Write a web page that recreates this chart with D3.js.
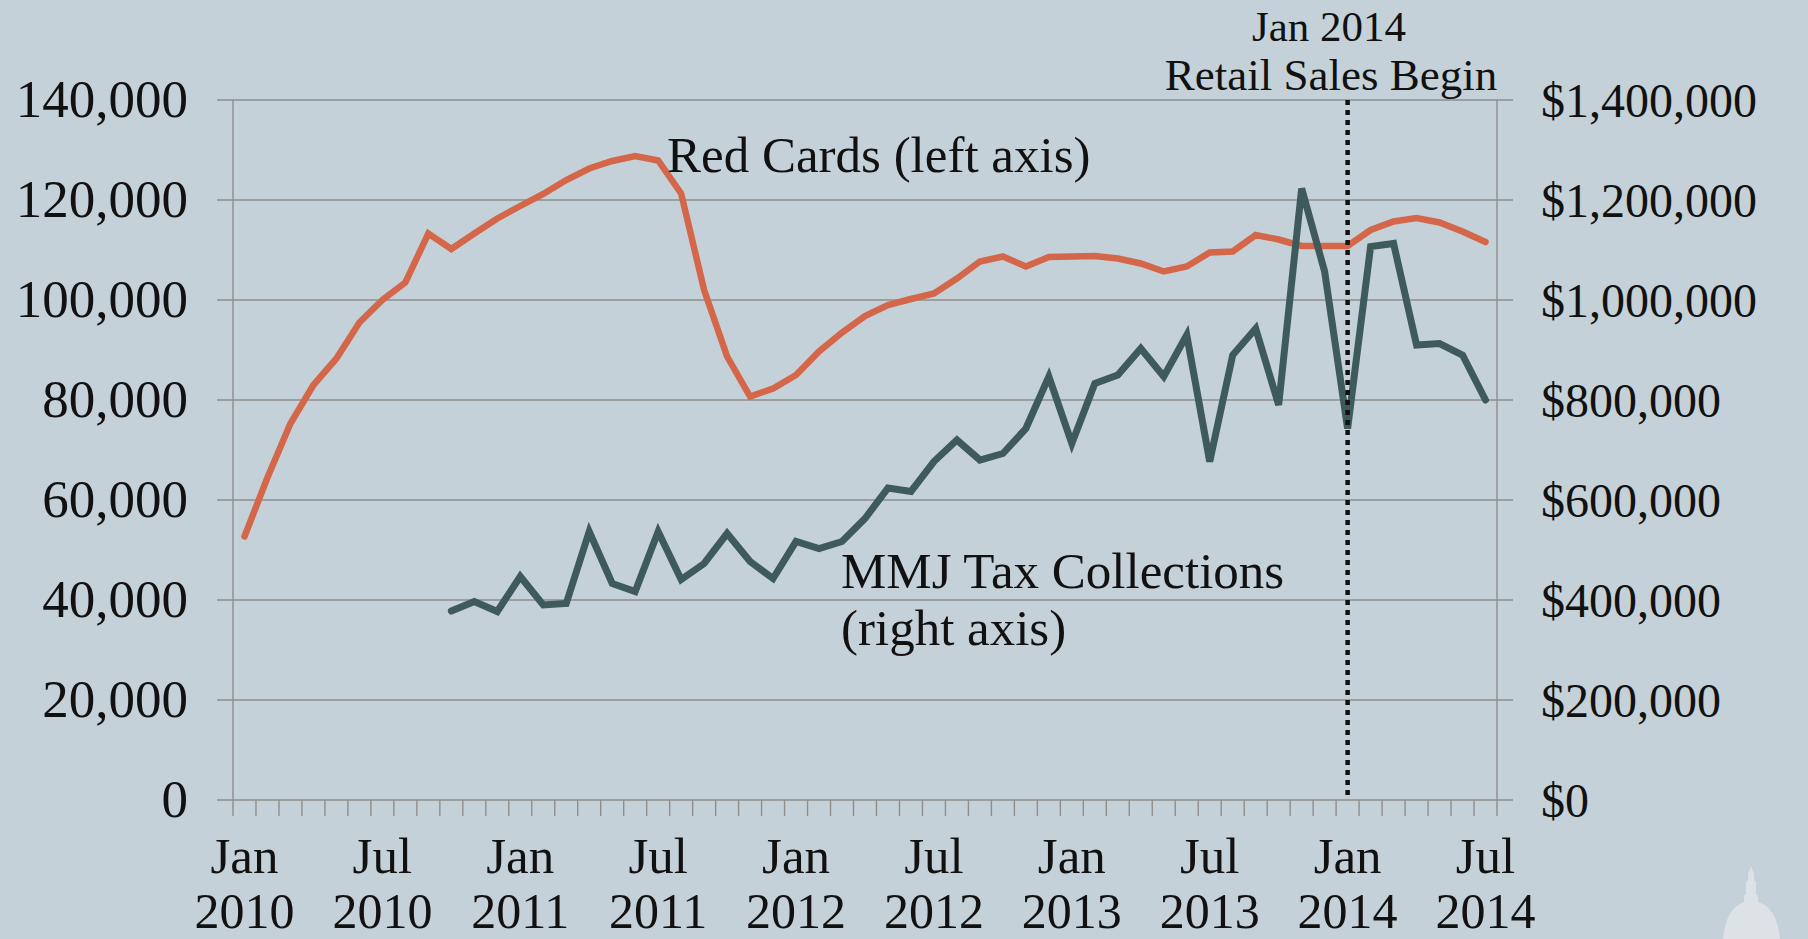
<!DOCTYPE html>
<html>
<head>
<meta charset="utf-8">
<script src="https://cdn.jsdelivr.net/npm/d3@7"></script>
<style>
  html, body { margin: 0; padding: 0; background: #c5d1d8; }
  svg { display: block; }
  text { font-family: Georgia, "Liberation Serif", "DejaVu Serif", serif; fill: #111; }
</style>
</head>
<body>
<svg id="chart" width="1808" height="939"></svg>
<script>
// ---------- DATA ----------
const months = [
  "Jan 2010","Feb 2010","Mar 2010","Apr 2010","May 2010","Jun 2010","Jul 2010","Aug 2010","Sep 2010","Oct 2010","Nov 2010","Dec 2010",
  "Jan 2011","Feb 2011","Mar 2011","Apr 2011","May 2011","Jun 2011","Jul 2011","Aug 2011","Sep 2011","Oct 2011","Nov 2011","Dec 2011",
  "Jan 2012","Feb 2012","Mar 2012","Apr 2012","May 2012","Jun 2012","Jul 2012","Aug 2012","Sep 2012","Oct 2012","Nov 2012","Dec 2012",
  "Jan 2013","Feb 2013","Mar 2013","Apr 2013","May 2013","Jun 2013","Jul 2013","Aug 2013","Sep 2013","Oct 2013","Nov 2013","Dec 2013",
  "Jan 2014","Feb 2014","Mar 2014","Apr 2014","May 2014","Jun 2014","Jul 2014"
];

// Red Cards (left axis)
const redCards = [
  52700, 64500, 75300, 83000, 88300, 95500, 100000, 103500, 113300, 110200, 113300, 116300,
  118800, 121200, 124000, 126300, 127800, 128800, 127900, 121300, 102000, 88700, 80700, 82300,
  85000, 89700, 93500, 96800, 99000, 100200, 101300, 104300, 107700, 108700, 106700, 108600,
  108700, 108800, 108300, 107300, 105700, 106700, 109500, 109700, 113000, 112100, 110800, 110800,
  110800, 114000, 115700, 116400, 115500, 113700, 111600
];

// MMJ Tax Collections (right axis, dollars)
const mmjTax = [
  null, null, null, null, null, null, null, null, null, 378000, 397000, 377000,
  447000, 390000, 393000, 537000, 433000, 417000, 537000, 441000, 473000, 533000, 477000, 443000,
  517000, 503000, 517000, 563000, 624000, 617000, 677000, 720000, 680000, 693000, 743000, 847000,
  713000, 833000, 850000, 903000, 847000, 930000, 677000, 890000, 943000, 790000, 1223000, 1057000,
  743000, 1107000, 1113000, 910000, 913000, 890000, 800000
];

const leftTicks = [0, 20000, 40000, 60000, 80000, 100000, 120000, 140000];
const rightTicks = [0, 200000, 400000, 600000, 800000, 1000000, 1200000, 1400000];
const xTickLabels = [
  ["Jan 2010", "Jan", "2010"], ["Jul 2010", "Jul", "2010"],
  ["Jan 2011", "Jan", "2011"], ["Jul 2011", "Jul", "2011"],
  ["Jan 2012", "Jan", "2012"], ["Jul 2012", "Jul", "2012"],
  ["Jan 2013", "Jan", "2013"], ["Jul 2013", "Jul", "2013"],
  ["Jan 2014", "Jan", "2014"], ["Jul 2014", "Jul", "2014"]
];
const retailStart = "Jan 2014";
const annotations = {
  red: "Red Cards (left axis)",
  mmj: ["MMJ Tax Collections", "(right axis)"],
  retail: ["Jan 2014", "Retail Sales Begin"]
};

// ---------- LAYOUT ----------
const W = 1808, H = 939;
const plot = { left: 233, right: 1497, top: 100, bottom: 800 };
const svg = d3.select("#chart");
svg.append("rect").attr("width", W).attr("height", H).attr("fill", "#c5d1d8");

const x = d3.scaleBand().domain(months).range([plot.left, plot.right]).paddingInner(0).paddingOuter(0);
const xc = m => x(m) + x.bandwidth() / 2;
const yL = d3.scaleLinear().domain([0, 140000]).range([plot.bottom, plot.top]);
const yR = d3.scaleLinear().domain([0, 1400000]).range([plot.bottom, plot.top]);

const gridColor = "#8e8e8e";
const fmt = d3.format(",");

// gridlines (left axis ticks)
svg.append("g").selectAll("line").data(leftTicks).join("line")
  .attr("x1", plot.left - 16).attr("x2", plot.right + 16)
  .attr("y1", d => yL(d)).attr("y2", d => yL(d))
  .attr("stroke", gridColor).attr("stroke-width", 1.4);

// vertical axis lines
[plot.left, plot.right].forEach(px => {
  svg.append("line").attr("x1", px).attr("x2", px)
    .attr("y1", plot.top).attr("y2", plot.bottom)
    .attr("stroke", gridColor).attr("stroke-width", 1.4);
});

// category boundary tick marks below the x axis
const boundaries = months.map(m => x(m)).concat([plot.right]);
svg.append("g").selectAll("line").data(boundaries).join("line")
  .attr("x1", d => d).attr("x2", d => d)
  .attr("y1", plot.bottom).attr("y2", plot.bottom + 16)
  .attr("stroke", gridColor).attr("stroke-width", 1.4);

// left axis labels
svg.append("g").selectAll("text").data(leftTicks).join("text")
  .attr("x", 188).attr("y", d => yL(d) + 17)
  .attr("text-anchor", "end").attr("font-size", 53)
  .text(d => fmt(d));

// right axis labels
svg.append("g").selectAll("text").data(rightTicks).join("text")
  .attr("x", 1541).attr("y", d => yR(d) + 17)
  .attr("text-anchor", "start").attr("font-size", 48)
  .text(d => "$" + fmt(d));

// x labels
const xl = svg.append("g").selectAll("g").data(xTickLabels).join("g");
xl.append("text").attr("x", d => xc(d[0])).attr("y", 873)
  .attr("text-anchor", "middle").attr("font-size", 51).text(d => d[1]);
xl.append("text").attr("x", d => xc(d[0])).attr("y", 928)
  .attr("text-anchor", "middle").attr("font-size", 50).text(d => d[2]);

// lines
const redLine = d3.line()
  .x((d, i) => xc(months[i]))
  .y(d => yL(d));
svg.append("path").datum(redCards)
  .attr("d", redLine)
  .attr("fill", "none").attr("stroke", "#d4674a").attr("stroke-width", 6.5)
  .attr("stroke-linecap", "round").attr("stroke-linejoin", "miter");

const taxLine = d3.line()
  .defined(d => d != null)
  .x((d, i) => xc(months[i]))
  .y(d => yR(d));
svg.append("path").datum(mmjTax)
  .attr("d", taxLine)
  .attr("fill", "none").attr("stroke", "#3f5a5b").attr("stroke-width", 7)
  .attr("stroke-linecap", "round").attr("stroke-linejoin", "miter");

// dotted vertical line at retail start
svg.append("line")
  .attr("x1", xc(retailStart)).attr("x2", xc(retailStart))
  .attr("y1", plot.top).attr("y2", plot.bottom)
  .attr("stroke", "#111").attr("stroke-width", 4.5)
  .attr("stroke-dasharray", "5,5");

// annotations
svg.append("text").attr("x", 667).attr("y", 172).attr("font-size", 51).text(annotations.red);
svg.append("text").attr("x", 841).attr("y", 588).attr("font-size", 51).text(annotations.mmj[0]);
svg.append("text").attr("x", 841).attr("y", 645).attr("font-size", 51).text(annotations.mmj[1]);
svg.append("text").attr("x", 1329).attr("y", 41).attr("text-anchor", "middle").attr("font-size", 43).text(annotations.retail[0]);
svg.append("text").attr("x", 1331).attr("y", 90).attr("text-anchor", "middle").attr("font-size", 45).text(annotations.retail[1]);

// faint capitol dome logo (decoration)
const logo = svg.append("g").attr("transform", "translate(1751,866)").attr("fill", "#dfe5e8").attr("opacity", 0.85);
logo.append("path").attr("d", "M0,0 L3,8 L3,14 L5,16 L5,28 L7,30 L7,36 C20,40 27,52 29,73 L-28,73 C-26,52 -19,40 -7,36 L-7,30 L-5,28 L-5,16 L-3,14 L-3,8 Z");
</script>
</body>
</html>
